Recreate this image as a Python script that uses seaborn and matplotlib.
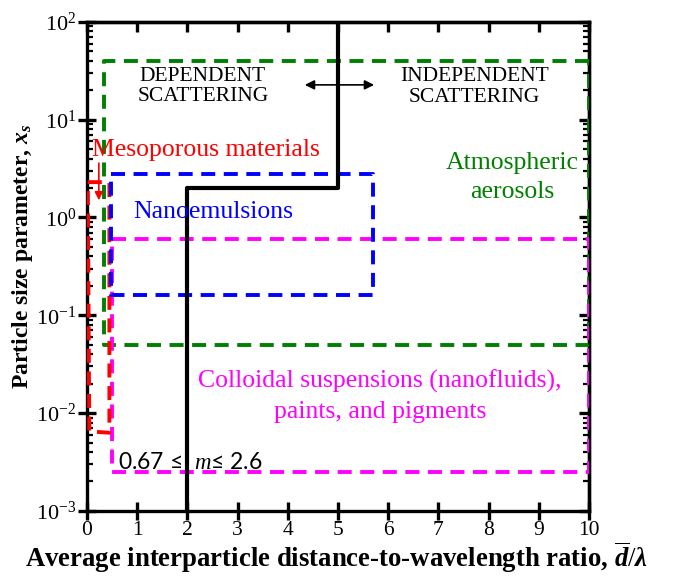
import numpy as np
import pandas as pd
import matplotlib
matplotlib.use("Agg")
import matplotlib.pyplot as plt
import seaborn as sns
from matplotlib.ticker import LogLocator, NullFormatter, NullLocator

# ---- data ----
boundary_x = [2, 2, 5, 5]
boundary_y = [1e-3, 2, 2, 100]

aerosol_x = [10, 0.35, 0.35, 10, 10]
aerosol_y = [40, 40, 0.05, 0.05, 40]

meso_x = [0.02, 0.45, 0.45, 0.05, 0.02]
meso_y = [2.3, 2.3, 0.0063, 0.0065, 2.3]

nano_x = [0.48, 5.7, 5.7, 0.48, 0.48]
nano_y = [2.8, 2.8, 0.16, 0.16, 2.8]

colloid_x = [0.5, 10, 10, 0.5, 0.5]
colloid_y = [0.6, 0.6, 0.0025, 0.0025, 0.6]

x_ticks = [0, 1, 2, 3, 4, 5, 6, 7, 8, 9, 10]

sns.set_style("ticks")
plt.rcParams["font.family"] = ["Liberation Serif", "DejaVu Serif"]
plt.rcParams["mathtext.fontset"] = "custom"
plt.rcParams["mathtext.rm"] = "Liberation Serif"
plt.rcParams["mathtext.it"] = "Liberation Serif:italic:bold"
plt.rcParams["mathtext.bf"] = "Liberation Serif:bold"
plt.rcParams["mathtext.sf"] = "Liberation Serif:italic"
plt.rcParams["axes.unicode_minus"] = False
for k in ["axes.edgecolor", "xtick.color", "ytick.color", "text.color", "axes.labelcolor"]:
    plt.rcParams[k] = "black"

fig = plt.figure(figsize=(6.78, 5.76), dpi=100)
ax = fig.add_axes([0.128, 0.113, 0.741, 0.849])

dash = (0, (3.6, 2.2))
lw_d = 2.8

def draw(xs, ys, color, ls, lw, z):
    df = pd.DataFrame({"x": xs, "y": ys})
    sns.lineplot(data=df, x="x", y="y", sort=False, estimator=None, ax=ax,
                 color=color, linestyle=ls, linewidth=lw, zorder=z)

draw(aerosol_x, aerosol_y, "#008000", dash, lw_d, 3)
draw(colloid_x, colloid_y, "#ff00ff", dash, lw_d, 3)
draw(meso_x, meso_y, "#ff0000", dash, lw_d, 4)
draw(nano_x, nano_y, "#0000ff", dash, lw_d, 5)
draw(boundary_x, boundary_y, "black", "-", 3.0, 6)

ax.set_yscale("log")
ax.set_xlim(0, 10)
ax.set_ylim(1e-3, 1e2)
ax.set_xticks(x_ticks)
ax.set_xticklabels([str(t) for t in x_ticks])
ax.xaxis.set_minor_locator(NullLocator())
ax.yaxis.set_major_locator(LogLocator(base=10, numticks=10))
ax.yaxis.set_minor_locator(LogLocator(base=10, subs=np.arange(2, 10), numticks=20))
ax.yaxis.set_minor_formatter(NullFormatter())

for s in ax.spines.values():
    s.set_linewidth(2.4)
    s.set_visible(True)
    s.set_color("black")
ax.tick_params(which="major", direction="inout", length=13, width=2.4,
               top=False, right=False)
ax.tick_params(axis="x", which="major", pad=0.5, labelsize=15.5)
ax.tick_params(axis="y", which="major", pad=1, labelsize=16)
ax.tick_params(axis="y", which="minor", direction="in", length=4, width=1.6,
               left=True, right=False)

# top and right ticks pointing inward only
sx = ax.secondary_xaxis("top")
sx.set_xticks(x_ticks)
sx.xaxis.set_minor_locator(NullLocator())
sx.tick_params(axis="x", which="major", direction="in", length=7, width=2.4,
               labeltop=False)
sy = ax.secondary_yaxis("right")
sy.yaxis.set_major_locator(LogLocator(base=10, numticks=10))
sy.yaxis.set_minor_locator(LogLocator(base=10, subs=np.arange(2, 10), numticks=20))
sy.yaxis.set_minor_formatter(NullFormatter())
sy.tick_params(axis="y", which="major", direction="in", length=7, width=2.4,
               labelright=False)
sy.tick_params(axis="y", which="minor", direction="in", length=4, width=1.6)
for a in (sx, sy):
    for s in a.spines.values():
        s.set_linewidth(2.4)
        s.set_color("black")

ax.set_xlabel(r"Average interparticle distance-to-wavelength ratio, $\overline{d}/\lambda$",
              fontsize=19.3, fontweight="bold", va="bottom")
ax.set_ylabel(r"Particle size parameter, $x_s$", fontsize=17, fontweight="bold")
ax.xaxis.set_label_coords(0.497, -0.1305)
ax.yaxis.set_label_coords(-0.103, 0.52)

ax.text(2.31, 21.9, "DEPENDENT\nSCATTERING", ha="center", va="center",
        fontsize=15.5, linespacing=1.12, zorder=7)
ax.text(7.71, 21.5, "INDEPENDENT\nSCATTERING", ha="center", va="center",
        fontsize=15.5, linespacing=1.12, zorder=7)
ax.annotate("", xy=(4.34, 22.7), xytext=(5.72, 22.7),
            arrowprops=dict(arrowstyle="<|-|>", color="black", lw=1.2,
                            mutation_scale=14, shrinkA=0, shrinkB=0), zorder=7)

ax.text(2.37, 4.9, "Mesoporous materials", ha="center", va="center",
        fontsize=18.5, color="#ff0000", zorder=7)
ax.annotate("", xy=(0.24, 1.5), xytext=(0.24, 3.6),
            arrowprops=dict(arrowstyle="-|>", color="#ff0000", lw=1.2,
                            mutation_scale=12, shrinkA=0, shrinkB=0), zorder=7)
ax.text(2.51, 1.14, "Nanoemulsions", ha="center", va="center",
        fontsize=18.5, color="#0000ff", zorder=7)
ax.text(8.47, 2.55, "Atmospheric\naerosols", ha="center", va="center",
        fontsize=18.5, color="#008000", linespacing=1.4, zorder=7)
ax.text(5.84, 0.0148, "Colloidal suspensions (nanofluids),\npaints, and pigments",
        ha="center", va="center", fontsize=18.5, color="#ff00ff",
        linespacing=1.5, zorder=7)
ax.text(0.62, 0.0031, "0.67 \u2264  $\\mathsf{m}$\u2264 2.6", ha="left", va="center",
        fontsize=16.5, color="black", family=["Lato", "DejaVu Sans"], zorder=7)

fig.savefig("out.png", dpi=100)
